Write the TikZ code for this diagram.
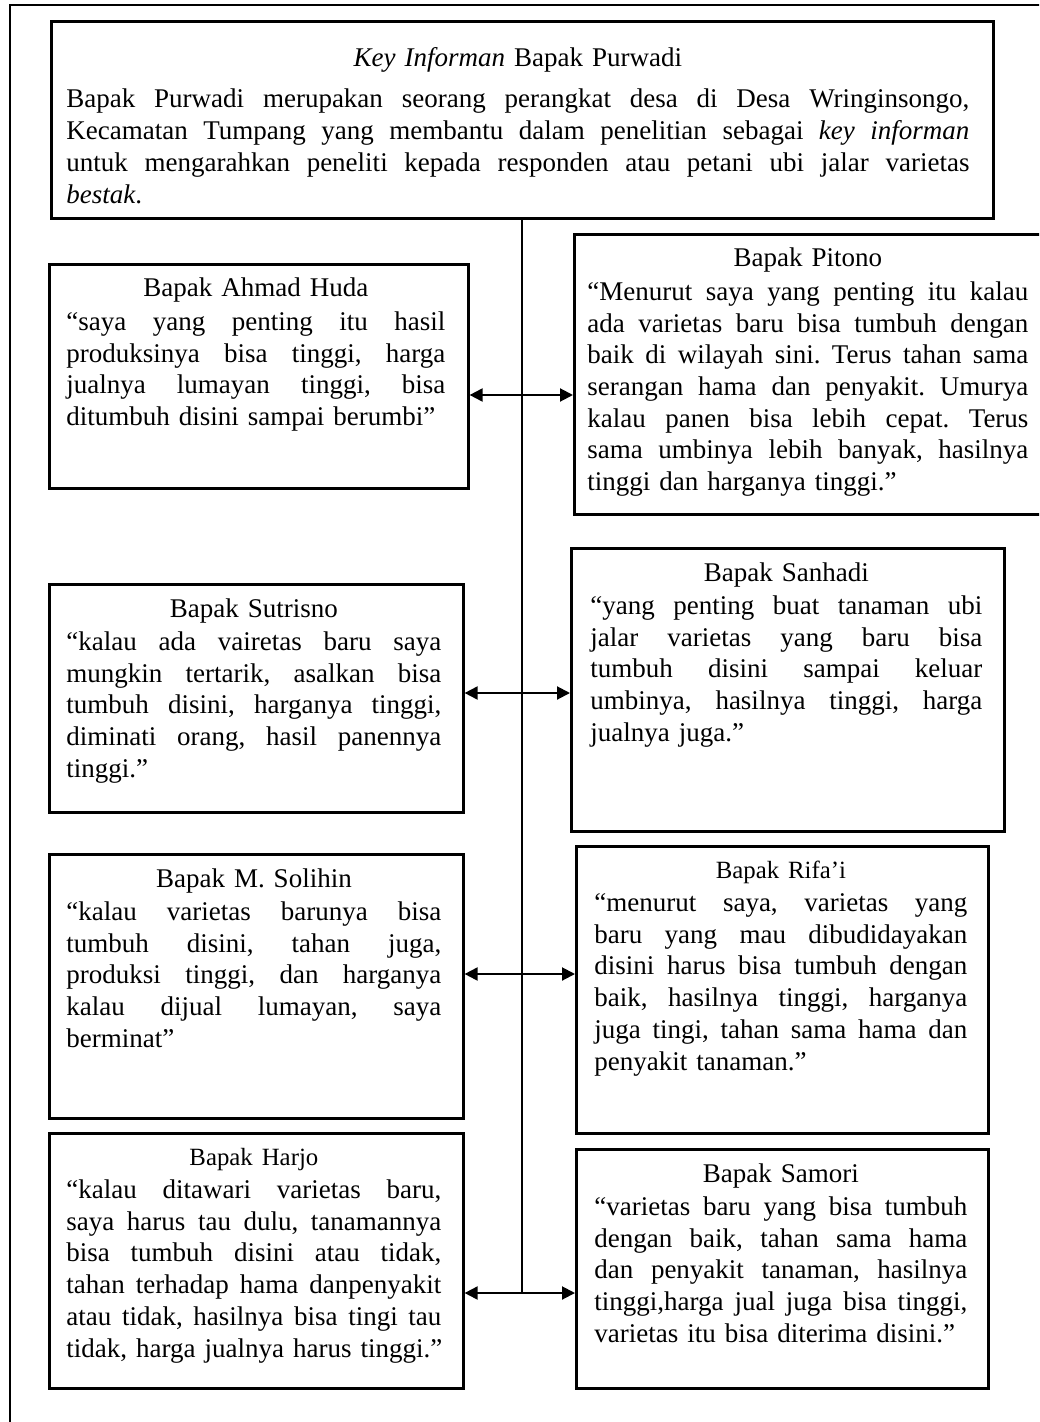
\documentclass[tikz,border=0pt]{standalone}
\usepackage{fontspec}
\setmainfont{Liberation Serif}
\usetikzlibrary{arrows.meta}
\frenchspacing

\begin{document}
\begin{tikzpicture}[x=0.5pt, y=-0.5pt,
    box/.style={draw, line width=1.3pt, rectangle, inner sep=0pt, anchor=north west},
    txt/.style={inner sep=0pt, anchor=base west, font=\fontsize{13.5pt}{15.85pt}\selectfont},
    link/.style={line width=1pt, {Triangle[length=6.5pt,width=6.5pt]}-{Triangle[length=6.5pt,width=6.5pt]}}]
    \newcommand{\jline}[1]{\hbox to\hsize{\spaceskip=3.375pt plus 20pt minus 1pt #1}}
    \newcommand{\hd}[1]{\centerline{#1}\vspace{0.9pt}}
    \newcommand{\hds}[1]{\centerline{\fontsize{12.4pt}{15.85pt}\selectfont #1}\vspace{0.9pt}}

    \useasboundingbox (0,0) rectangle (1039,1422);
    \fill[white] (0,0) rectangle (1039,1422);
    \clip (0,0) rectangle (1039,1422);
    \draw[line width=1.3pt] (10,5) rectangle (1060,1440);

    % kotak
    \node[box, minimum width=471pt, minimum height=98.5pt] (top) at (50,20) {};
    \node[box, minimum width=209.5pt, minimum height=112pt] (huda) at (48,263) {};
    \node[box, minimum width=240pt, minimum height=140pt] (pitono) at (573,233) {};
    \node[box, minimum width=207pt, minimum height=114pt] (sutrisno) at (48,583) {};
    \node[box, minimum width=216.5pt, minimum height=141.5pt] (sanhadi) at (570,547) {};
    \node[box, minimum width=207pt, minimum height=132pt] (solihin) at (48,853) {};
    \node[box, minimum width=206pt, minimum height=143.5pt] (rifai) at (575,845) {};
    \node[box, minimum width=207pt, minimum height=127.5pt] (harjo) at (48,1132) {};
    \node[box, minimum width=206pt, minimum height=119.5pt] (samori) at (575,1148) {};

    % teks
    \node[txt, text width=451.5pt] (top-t) at ([shift={(16,47)}]top.north west) {%
        \centerline{\textit{Key Informan} Bapak Purwadi}\vspace{4.65pt}
        \jline{Bapak Purwadi merupakan seorang perangkat desa di Desa Wringinsongo,}
        \jline{Kecamatan Tumpang yang membantu dalam penelitian sebagai \textit{key informan}}
        \jline{untuk mengarahkan peneliti kepada responden atau petani ubi jalar varietas}
        \hbox{\textit{bestak}.}};
    \node[txt, text width=189.5pt] (huda-t) at ([shift={(18,34)}]huda.north west) {%
        \hd{Bapak Ahmad Huda}
        \jline{“saya yang penting itu hasil}
        \jline{produksinya bisa tinggi, harga}
        \jline{jualnya lumayan tinggi, bisa}
        \hbox{ditumbuh disini sampai berumbi”}};
    \node[txt, text width=220.5pt] (pitono-t) at ([shift={(14,34)}]pitono.north west) {%
        \hd{Bapak Pitono}
        \jline{“Menurut saya yang penting itu kalau}
        \jline{ada varietas baru bisa tumbuh dengan}
        \jline{baik di wilayah sini. Terus tahan sama}
        \jline{serangan hama dan penyakit. Umurya}
        \jline{kalau panen bisa lebih cepat. Terus}
        \jline{sama umbinya lebih banyak, hasilnya}
        \hbox{tinggi dan harganya tinggi.”}};
    \node[txt, text width=187.5pt] (sutrisno-t) at ([shift={(18,34)}]sutrisno.north west) {%
        \hd{Bapak Sutrisno}
        \jline{“kalau ada vairetas baru saya}
        \jline{mungkin tertarik, asalkan bisa}
        \jline{tumbuh disini, harganya tinggi,}
        \jline{diminati orang, hasil panennya}
        \hbox{tinggi.”}};
    \node[txt, text width=196pt] (sanhadi-t) at ([shift={(20,34)}]sanhadi.north west) {%
        \hd{Bapak Sanhadi}
        \jline{“yang penting buat tanaman ubi}
        \jline{jalar varietas yang baru bisa}
        \jline{tumbuh disini sampai keluar}
        \jline{umbinya, hasilnya tinggi, harga}
        \hbox{jualnya juga.”}};
    \node[txt, text width=187.5pt] (solihin-t) at ([shift={(18,34)}]solihin.north west) {%
        \hd{Bapak M. Solihin}
        \jline{“kalau varietas barunya bisa}
        \jline{tumbuh disini, tahan juga,}
        \jline{produksi tinggi, dan harganya}
        \jline{kalau dijual lumayan, saya}
        \hbox{berminat”}};
    \node[txt, text width=186.5pt] (rifai-t) at ([shift={(19,33)}]rifai.north west) {%
        \hds{Bapak Rifa’i}
        \jline{“menurut saya, varietas yang}
        \jline{baru yang mau dibudidayakan}
        \jline{disini harus bisa tumbuh dengan}
        \jline{baik, hasilnya tinggi, harganya}
        \jline{juga tingi, tahan sama hama dan}
        \hbox{penyakit tanaman.”}};
    \node[txt, text width=187.5pt] (harjo-t) at ([shift={(18,33)}]harjo.north west) {%
        \hds{Bapak Harjo}
        \jline{“kalau ditawari varietas baru,}
        \jline{saya harus tau dulu, tanamannya}
        \jline{bisa tumbuh disini atau tidak,}
        \jline{tahan terhadap hama danpenyakit}
        \jline{atau tidak, hasilnya bisa tingi tau}
        \hbox{tidak, harga jualnya harus tinggi.”}};
    \node[txt, text width=186.5pt] (samori-t) at ([shift={(19,34)}]samori.north west) {%
        \hd{Bapak Samori}
        \jline{“varietas baru yang bisa tumbuh}
        \jline{dengan baik, tahan sama hama}
        \jline{dan penyakit tanaman, hasilnya}
        \jline{tinggi,harga jual juga bisa tinggi,}
        \hbox{varietas itu bisa diterima disini.”}};

    % garis
    \coordinate (a1) at (520,395);
    \coordinate (a2) at (520,693);
    \coordinate (a3) at (520,974);
    \coordinate (a4) at (520,1293);
    \draw[line width=1pt] (top.south) -- (top.south |- a4);
    \draw[link] (huda.east |- a1) -- (pitono.west |- a1);
    \draw[link] (sutrisno.east |- a2) -- (sanhadi.west |- a2);
    \draw[link] (solihin.east |- a3) -- (rifai.west |- a3);
    \draw[link] (harjo.east |- a4) -- (samori.west |- a4);

\end{tikzpicture}
\end{document}
